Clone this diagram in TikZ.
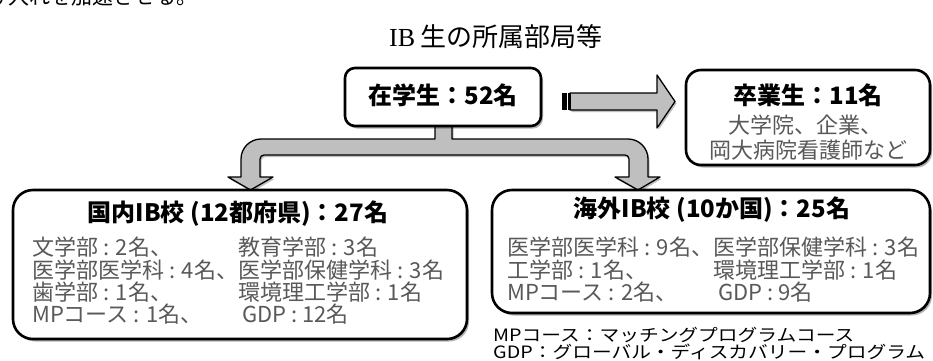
\documentclass[tikz,border=0pt]{standalone}
\usepackage{fontspec}
\setmainfont{Noto Sans CJK JP}
\newfontfamily\latinserif{Liberation Serif}
\usetikzlibrary{shadows}
\definecolor{arrowgray}{HTML}{BFBFBF}
\definecolor{textgray}{HTML}{595959}
\begin{document}
\begin{tikzpicture}[x=1pt,y=-1pt,
  box/.style={draw=black, line width=2.6pt, fill=white, inner sep=0pt,
    drop shadow={shadow xshift=2pt,shadow yshift=-2.5pt,opacity=0.3,fill=black}},
  blockarrow/.style={draw=black, line width=1.3pt, fill=arrowgray, line join=round,
    drop shadow={shadow xshift=1.5pt,shadow yshift=-2pt,opacity=0.25,fill=black}},
  body/.style={inner sep=0pt, anchor=base west, text=textgray, font=\fontsize{22}{22}\selectfont},
  head/.style={inner sep=0pt, anchor=base, text=black, font=\bfseries\fontsize{24}{24}\selectfont},
  note/.style={inner sep=0pt, anchor=base west, text=black, font=\fontsize{17}{17}\selectfont},
  sub/.style={inner sep=0pt, anchor=base, text=textgray, font=\fontsize{22}{22}\selectfont},
]
\clip (0,0) rectangle (933,360);
\useasboundingbox (0,0) rectangle (933,360);

% clipped line of the surrounding text
\node[inner sep=0pt, anchor=base east, font=\fontsize{21}{21}\selectfont] (prev) at (198,4) {受け入れを加速させる。};

% title
\node[inner sep=0pt, anchor=base, font=\fontsize{26}{26}\selectfont] (title) at (496,46) {{\latinserif IB} 生の所属部局等};

% branching block arrow
\draw[blockarrow]
  (250.5,190) -- (273,177) -- (260,177) -- (260,159)
  arc[start angle=180,end angle=270,radius=4] -- (625,155)
  arc[start angle=270,end angle=360,radius=4] -- (629,177) -- (615,177) -- (638,190)
  -- (660,177) -- (648,177) -- (648,159)
  arc[start angle=0,end angle=-90,radius=20] -- (452,139) -- (452,118) -- (435,118) -- (435,139)
  -- (261,139) arc[start angle=270,end angle=180,radius=20] -- (241,177) -- (228,177) -- cycle;

% striped right arrow
\draw[blockarrow] (570,93) -- (657,93) -- (657,75) -- (675,101.5) -- (657,128) -- (657,110) -- (570,110) -- cycle;
\fill[black] (562,93) rectangle (567,110);
\fill[black] (568,93) rectangle (570.5,110);

% boxes
\node[box, rounded corners=10pt, minimum width=196pt, minimum height=58pt] (s) at (443,97) {};
\node[box, rounded corners=15pt, minimum width=244pt, minimum height=95pt] (g) at (808,117.5) {};
\node[box, rounded corners=20pt, minimum width=454pt, minimum height=149pt] (d) at (240,264.5) {};
\node[box, rounded corners=20pt, minimum width=438pt, minimum height=123pt] (o) at (711,251.5) {};

% texts
\node[head] (st) at (443,104) {在学生：52名};
\node[head] (gt) at (808,104) {卒業生：11名};
\node[sub] (g1) at (805,133) {大学院、企業、};
\node[sub] (g2) at (808.5,158) {岡大病院看護師など};

\node[head] (dt) at (238,221.5) {国内IB校 (12都府県)：27名};
\node[body] (d1) at (32,255) {文学部 : 2名、};
\node[body] (d2) at (32,278) {医学部医学科 : 4名、};
\node[body] (d3) at (32,300) {歯学部 : 1名、};
\node[body] (d4) at (32,322) {MPコース : 1名、};
\node[body] (d5) at (238,255) {教育学部 : 3名};
\node[body] (d6) at (238,278) {医学部保健学科 : 3名};
\node[body] (d7) at (238,300) {環境理工学部 : 1名};
\node[body] (d8) at (242,322) {GDP : 12名};

\node[head] (ot) at (712,217.5) {海外IB校 (10か国)：25名};
\node[body] (o1) at (507,255) {医学部医学科 : 9名、};
\node[body] (o2) at (507,278) {工学部 : 1名、};
\node[body] (o3) at (507,300) {MPコース : 2名、};
\node[body] (o4) at (713,255) {医学部保健学科 : 3名};
\node[body] (o5) at (713,278) {環境理工学部 : 1名};
\node[body] (o6) at (718,300) {GDP : 9名};

\node[note] (n1) at (493,341) {\scalebox{1.16}[1]{MPコース：マッチングプログラムコース}};
\node[note] (n2) at (493,358.5) {\scalebox{1.16}[1]{GDP：グローバル・ディスカバリー・プログラム}};
\end{tikzpicture}
\end{document}
